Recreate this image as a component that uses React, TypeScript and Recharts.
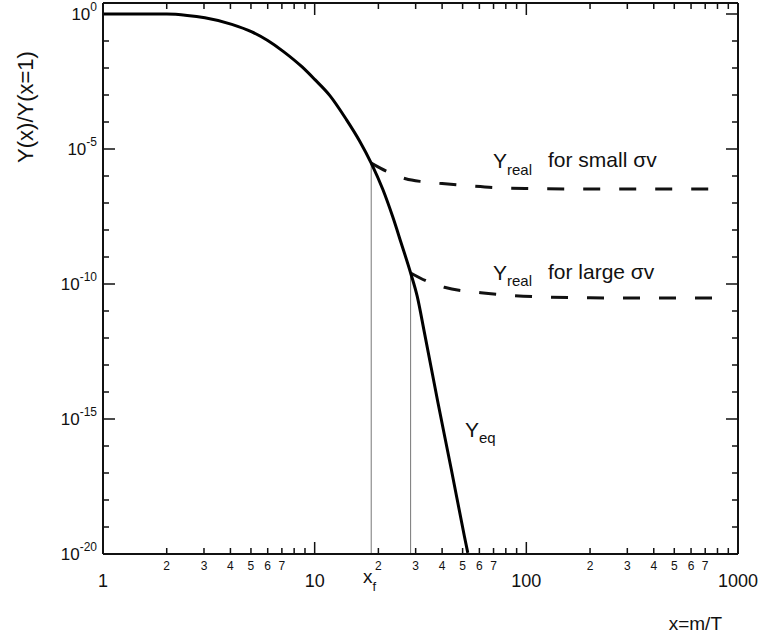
import { LineChart, Line, XAxis, YAxis } from "recharts";

const FONT = '"Liberation Sans", Arial, Helvetica, sans-serif';
const INK = "#111";

// axis ticks: every integer step per decade on x, every decade on y
const xTicks = [
  1, 2, 3, 4, 5, 6, 7, 8, 9,
  10, 20, 30, 40, 50, 60, 70, 80, 90,
  100, 200, 300, 400, 500, 600, 700, 800, 900,
  1000,
];
const yTickExps = [
  -20, -19, -18, -17, -16, -15, -14, -13, -12, -11, -10,
  -9, -8, -7, -6, -5, -4, -3, -2, -1, 0,
];
const yTicks = yTickExps.map((e) => 10 ** e);
const yTop = 10 ** 0.41;

// equilibrium abundance, log10 of Y(x)/Y(x=1)
const eqX = [1, 2, 2.5, 3.03, 4.06, 5.05, 6.0, 7.1, 8.7, 10, 11.8, 14.1, 16.3, 18.5, 21.0, 23.4, 25.6, 28.4, 30.5, 33.0, 38.2, 44.2, 51.0, 52.9];
const eqExp = [0, 0, -0.05, -0.14, -0.38, -0.66, -0.98, -1.38, -1.95, -2.42, -3.02, -3.9, -4.7, -5.52, -6.5, -7.52, -8.47, -9.59, -10.45, -11.8, -14.38, -16.86, -19.35, -19.96];

// relic abundance after freeze-out, small cross section
const smallX = [18.5, 22.1, 26.9, 32.3, 40, 55, 72, 100, 200, 400, 800];
const smallExp = [-5.52, -5.84, -6.1, -6.21, -6.28, -6.37, -6.43, -6.46, -6.48, -6.48, -6.48];

// relic abundance after freeze-out, large cross section
const largeX = [28.4, 34, 41, 61, 111, 200, 400, 830];
const largeExp = [-9.59, -9.9, -10.12, -10.32, -10.47, -10.51, -10.52, -10.52];

// freeze-out points (x_f) on the equilibrium curve
const freezeX = [18.5, 28.4];
const freezeExp = [-5.52, -9.59];

const toRows = (xs: number[], es: number[]) => xs.map((x, i) => ({ x, y: 10 ** es[i] }));
const eqData = toRows(eqX, eqExp);
const smallData = toRows(smallX, smallExp);
const largeData = toRows(largeX, largeExp);
const dropLines = freezeX.map((fx, i) => [
  { x: fx, y: 1e-20 },
  { x: fx, y: 10 ** freezeExp[i] },
]);

const isDecade = (v: number) => {
  const l = Math.log10(v);
  return Math.abs(l - Math.round(l)) < 1e-6;
};
const mantissa = (v: number) => Math.round(v / 10 ** Math.floor(Math.log10(v) + 1e-6));

// plot box: 635 x 551 px, 3 decades across, 20.41 decades down
const PX_PER_DEC_X = 635 / 3;
const PX_PER_DEC_Y = 551 / 20.41;
const markLen = (major: boolean) => (major ? 12 : 6);

// inward tick marks as short broken line segments (null rows break the path)
const bottomMarks = xTicks.flatMap((t) => [
  { x: t, y: 1e-20 },
  { x: t, y: 1e-20 * 10 ** (markLen(isDecade(t)) / PX_PER_DEC_Y) },
  { x: t, y: null },
]);
const topMarks = xTicks.flatMap((t) => [
  { x: t, y: yTop },
  { x: t, y: yTop / 10 ** (markLen(isDecade(t)) / PX_PER_DEC_Y) },
  { x: t, y: null },
]);
const leftMarks = yTickExps.flatMap((e) => [
  { x: 1, y: 10 ** e },
  { x: 10 ** (markLen(e % 5 === 0) / PX_PER_DEC_X), y: 10 ** e },
  { x: 1, y: null },
]);
const rightMarks = yTickExps.flatMap((e) => [
  { x: 1000, y: 10 ** e },
  { x: 1000 / 10 ** (markLen(e % 5 === 0) / PX_PER_DEC_X), y: 10 ** e },
  { x: 1000, y: null },
]);

function BottomLabel({ x, y, payload }: any) {
  const v = payload.value;
  const m = mantissa(v);
  if (isDecade(v)) {
    return (
      <text x={x} y={y + 33} textAnchor="middle" fontSize={18} fontFamily={FONT} fill={INK}>
        {v}
      </text>
    );
  }
  if (m > 7) return <g />;
  return (
    <text x={x} y={y + 15.5} textAnchor="middle" fontSize={12} fontFamily={FONT} fill={INK}>
      {m}
    </text>
  );
}

function LeftLabel({ x, y, payload }: any) {
  const e = Math.round(Math.log10(payload.value));
  if (e % 5 !== 0) return <g />;
  return (
    <text x={x - 6} y={y + 6} textAnchor="end" fontSize={17} fontFamily={FONT} fill={INK}>
      10
      <tspan dy={-9} fontSize={12}>
        {`${e}`}
      </tspan>
    </text>
  );
}

function Annotations() {
  const t = { fontFamily: FONT, fill: INK };
  return (
    <svg
      width={760}
      height={637}
      style={{ position: "absolute", left: 0, top: 0, pointerEvents: "none" }}
    >
      <text transform="rotate(-90, 25, 107)" x={25} y={107} dy="0.35em" textAnchor="middle" fontSize={22} {...t}>
        Y(x)/Y(x=1)
      </text>
      <text x={722} y={630} textAnchor="end" fontSize={19} {...t}>
        x=m/T
      </text>
      <text x={363} y={583} fontSize={19} {...t}>
        x<tspan dy={8} fontSize={13}>f</tspan>
      </text>
      <text x={493} y={168} fontSize={21} {...t}>
        Y<tspan dy={7} fontSize={15}>real</tspan>
      </text>
      <text x={548} y={167} fontSize={21} {...t}>
        for small σv
      </text>
      <text x={493} y={280} fontSize={21} {...t}>
        Y<tspan dy={6} fontSize={15}>real</tspan>
      </text>
      <text x={548} y={279} fontSize={21} {...t}>
        for large σv
      </text>
      <text x={465} y={437} fontSize={21} {...t}>
        Y<tspan dy={6} fontSize={15}>eq</tspan>
      </text>
    </svg>
  );
}

export default function App() {
  const markProps = {
    xAxisId: "b",
    yAxisId: "l",
    dataKey: "y",
    type: "linear" as const,
    stroke: INK,
    strokeWidth: 1.5,
    dot: false,
    connectNulls: false,
    isAnimationActive: false,
  };
  return (
    <div style={{ position: "absolute", left: 0, top: 0, width: 760, height: 637, background: "#fff" }}>
      <LineChart width={760} height={637} margin={{ top: 2, right: 21, bottom: 53, left: 43 }}>
        <XAxis
          xAxisId="b"
          orientation="bottom"
          dataKey="x"
          type="number"
          scale="log"
          domain={[1, 1000]}
          allowDataOverflow
          ticks={xTicks}
          interval={0}
          tick={<BottomLabel />}
          tickLine={false}
          tickSize={0}
          tickMargin={0}
          height={30}
          axisLine={{ stroke: INK, strokeWidth: 2 }}
        />
        <XAxis
          xAxisId="t"
          orientation="top"
          dataKey="x"
          type="number"
          scale="log"
          domain={[1, 1000]}
          allowDataOverflow
          tick={false}
          tickLine={false}
          height={1}
          axisLine={{ stroke: INK, strokeWidth: 2 }}
        />
        <YAxis
          yAxisId="l"
          orientation="left"
          type="number"
          scale="log"
          domain={[1e-20, yTop]}
          allowDataOverflow
          ticks={yTicks}
          interval={0}
          tick={<LeftLabel />}
          tickLine={false}
          tickSize={0}
          tickMargin={0}
          width={60}
          axisLine={{ stroke: INK, strokeWidth: 2 }}
        />
        <YAxis
          yAxisId="r"
          orientation="right"
          type="number"
          scale="log"
          domain={[1e-20, yTop]}
          allowDataOverflow
          tick={false}
          tickLine={false}
          width={1}
          axisLine={{ stroke: INK, strokeWidth: 2 }}
        />
        <Line {...markProps} data={bottomMarks} />
        <Line {...markProps} data={topMarks} />
        <Line {...markProps} data={leftMarks} />
        <Line {...markProps} data={rightMarks} />
        {dropLines.map((seg, i) => (
          <Line
            key={`drop-${i}`}
            xAxisId="b"
            yAxisId="l"
            data={seg}
            dataKey="y"
            type="linear"
            stroke="#777"
            strokeWidth={1}
            dot={false}
            isAnimationActive={false}
          />
        ))}
        <Line
          xAxisId="b"
          yAxisId="l"
          data={smallData}
          dataKey="y"
          type="monotone"
          stroke={INK}
          strokeWidth={3}
          strokeDasharray="17 19"
          dot={false}
          isAnimationActive={false}
        />
        <Line
          xAxisId="b"
          yAxisId="l"
          data={largeData}
          dataKey="y"
          type="monotone"
          stroke={INK}
          strokeWidth={3}
          strokeDasharray="17 19"
          dot={false}
          isAnimationActive={false}
        />
        <Line
          xAxisId="b"
          yAxisId="l"
          data={eqData}
          dataKey="y"
          type="monotone"
          stroke="#000"
          strokeWidth={3}
          dot={false}
          isAnimationActive={false}
        />
      </LineChart>
      <Annotations />
    </div>
  );
}
